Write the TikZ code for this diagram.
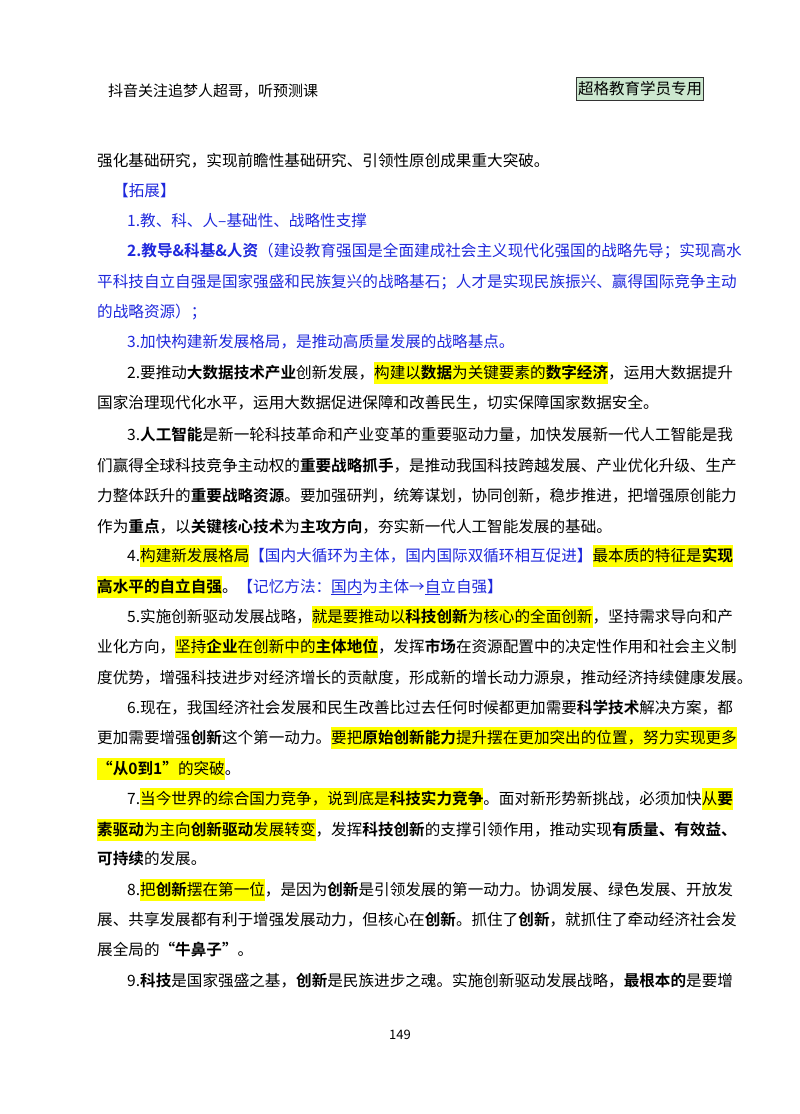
\documentclass[tikz,border=0pt]{standalone}
\usepackage{fontspec}
\usepackage{xcolor}
\setmainfont{Noto Sans CJK SC}[BoldFont={Noto Sans CJK SC Bold}]
\XeTeXlinebreaklocale "zh"
\XeTeXlinebreakskip=0pt plus 4pt
\definecolor{bl}{RGB}{30,40,220}
\definecolor{hly}{RGB}{255,255,0}
\definecolor{tagg}{RGB}{204,232,207}
\newcommand\hl[1]{{\setlength\fboxsep{0pt}\colorbox{hly}{\rule[-6pt]{0pt}{22pt}#1}}}
\newcommand\full[1]{\hbox to \linew{#1}}
\newdimen\linew
\tikzset{tx/.style={anchor=base west,inner sep=0pt,font=\fontsize{15.6}{20}\selectfont},
 pnum/.style={anchor=base,inner sep=0pt,font=\fontsize{13}{16}\selectfont}}
\begin{document}
\begin{tikzpicture}[x=1pt,y=-1pt]
\useasboundingbox (0,0) rectangle (800,1114);
\node[tx,font=\fontsize{15}{18}\selectfont] (hd) at (108,96) {抖音关注追梦人超哥，听预测课};
\node[draw=black!80,fill=tagg,line width=1pt,minimum width=127pt,minimum height=23pt,inner sep=0pt,font=\fontsize{15.5}{18}\selectfont] (tag) at (640,88.5) {超格教育学员专用};
\global\linew=608pt
\node[tx] (a1) at (97,166) {强化基础研究，实现前瞻性基础研究、引领性原创成果重大突破。};
\node[tx,text=bl] (a2) at (113,196) {【拓展】};
\node[tx,text=bl] (a3) at (127,226) {1.教、科、人–基础性、战略性支撑};
\global\linew=578pt
\node[tx,text=bl] (a4) at (127,256) {\full{\textbf{2.教导\&科基\&人资}（建设教育强国是全面建成社会主义现代化强国的战略先导；实现高水}};
\global\linew=608pt
\node[tx,text=bl] (a5) at (97,287) {\full{平科技自立自强是国家强盛和民族复兴的战略基石；人才是实现民族振兴、赢得国际竞争主动}};
\node[tx,text=bl] (a6) at (97,317) {的战略资源）；};
\node[tx,text=bl] (a7) at (127,347) {3.加快构建新发展格局，是推动高质量发展的战略基点。};
\global\linew=578pt
\node[tx] (b1) at (127,378) {\full{2.要推动\textbf{大数据技术产业}创新发展，\hl{构建以\textbf{数据}为关键要素的\textbf{数字经济}}，运用大数据提升}};
\node[tx] (b2) at (97,408) {国家治理现代化水平，运用大数据促进保障和改善民生，切实保障国家数据安全。};
\node[tx] (c1) at (127,440) {\full{3.\textbf{人工智能}是新一轮科技革命和产业变革的重要驱动力量，加快发展新一代人工智能是我}};
\global\linew=608pt
\node[tx] (c2) at (97,471) {\full{们赢得全球科技竞争主动权的\textbf{重要战略抓手}，是推动我国科技跨越发展、产业优化升级、生产}};
\node[tx] (c3) at (97,501) {\full{力整体跃升的\textbf{重要战略资源}。要加强研判，统筹谋划，协同创新，稳步推进，把增强原创能力}};
\node[tx] (c4) at (97,532) {作为\textbf{重点}，以\textbf{关键核心技术}为\textbf{主攻方向}，夯实新一代人工智能发展的基础。};
\global\linew=578pt
\node[tx] (d1) at (127,561) {\full{4.\hl{构建新发展格局}\textcolor{bl}{【国内大循环为主体，国内国际双循环相互促进】}\hl{最本质的特征是\textbf{实现}}}};
\node[tx] (d2) at (97,592) {\hl{\textbf{高水平的自立自强}}。\textcolor{bl}{【记忆方法：\underline{国内}为主体→\underline{自}立自强】}};
\node[tx] (e1) at (127,622) {\full{5.实施创新驱动发展战略，\hl{就是要推动以\textbf{科技创新}为核心的全面创新}，坚持需求导向和产}};
\global\linew=608pt
\node[tx] (e2) at (97,652) {\full{业化方向，\hl{坚持\textbf{企业}在创新中的\textbf{主体地位}}，发挥\textbf{市场}在资源配置中的决定性作用和社会主义制}};
\node[tx] (e3) at (97,683) {\full{度优势，增强科技进步对经济增长的贡献度，形成新的增长动力源泉，推动经济持续健康发展。}};
\global\linew=578pt
\node[tx] (f1) at (127,713) {\full{6.现在，我国经济社会发展和民生改善比过去任何时候都更加需要\textbf{科学技术}解决方案，都}};
\global\linew=608pt
\node[tx] (f2) at (97,743) {\full{更加需要增强\textbf{创新}这个第一动力。\hl{要把\textbf{原始创新能力}提升摆在更加突出的位置，努力实现更多}}};
\node[tx] (f3) at (97,774) {\hl{\textbf{“从0到1”}的突破}。};
\global\linew=578pt
\node[tx] (g1) at (127,804) {\full{7.\hl{当今世界的综合国力竞争，说到底是\textbf{科技实力竞争}}。面对新形势新挑战，必须加快\hl{从\textbf{要}}}};
\global\linew=608pt
\node[tx] (g2) at (97,835) {\full{\hl{\textbf{素驱动}为主向\textbf{创新驱动}发展转变}，发挥\textbf{科技创新}的支撑引领作用，推动实现\textbf{有质量、有效益、}}};
\node[tx] (g3) at (97,864) {\textbf{可持续}的发展。};
\global\linew=578pt
\node[tx] (h1) at (127,895) {\full{8.\hl{把\textbf{创新}摆在第一位}，是因为\textbf{创新}是引领发展的第一动力。协调发展、绿色发展、开放发}};
\global\linew=608pt
\node[tx] (h2) at (97,925) {\full{展、共享发展都有利于增强发展动力，但核心在\textbf{创新}。抓住了\textbf{创新}，就抓住了牵动经济社会发}};
\node[tx] (h3) at (97,955) {展全局的\textbf{“牛鼻子”}。};
\global\linew=578pt
\node[tx] (i1) at (127,986) {\full{9.\textbf{科技}是国家强盛之基，\textbf{创新}是民族进步之魂。实施创新驱动发展战略，\textbf{最根本的}是要增}};
\node[pnum] (pg) at (400,1039) {149};
\end{tikzpicture}
\end{document}
